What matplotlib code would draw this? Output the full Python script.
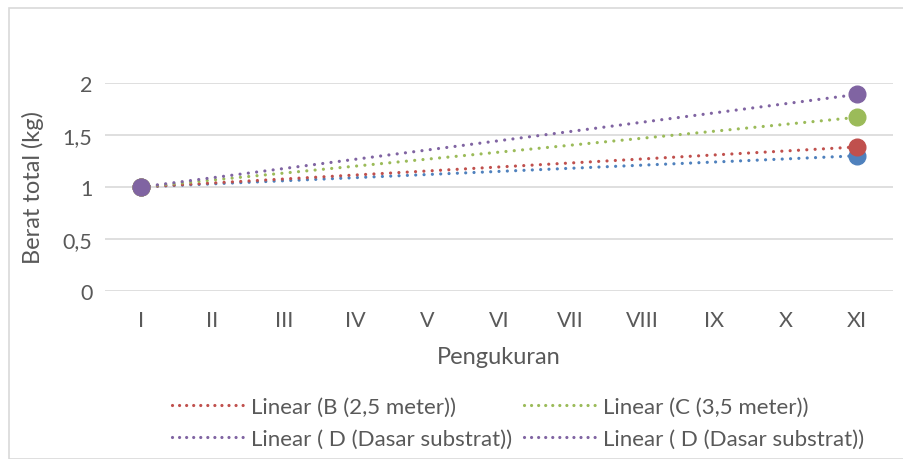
import matplotlib.pyplot as plt
import numpy as np
from matplotlib.lines import Line2D
from matplotlib.patches import Rectangle

# Data
kategori = ['I', 'II', 'III', 'IV', 'V', 'VI', 'VII', 'VIII', 'IX', 'X', 'XI']
awal = [1.0, 1.0, 1.0, 1.0]            # nilai di pengukuran I
akhir = [1.30, 1.385, 1.67, 1.89]      # nilai di pengukuran XI
warna = ['#4F81BD', '#C0504D', '#9BBB59', '#8064A2']
label_legend = ['Linear (B (2,5 meter))', 'Linear (C (3,5 meter))',
                'Linear ( D (Dasar substrat))', 'Linear ( D (Dasar substrat))']
warna_legend = ['#C0504D', '#9BBB59', '#8064A2', '#8064A2']
y_ticks = [0, 0.5, 1, 1.5, 2]
y_ticklabels = ['0', '0,5', '1', '1,5', '2']

plt.rcParams['font.family'] = ['Lato', 'DejaVu Sans']
abu = '#595959'

fig = plt.figure(figsize=(9.04, 4.6), dpi=100)
ax = fig.add_axes([105 / 904, (460 - 292) / 460, (893 - 105) / 904, 208 / 460])

# bingkai chart
fig.patches.append(Rectangle((9 / 904, 0), 1.0, (460 - 9) / 460, transform=fig.transFigure,
                             fill=False, edgecolor='#d9d9d9', linewidth=1.2))

pos = np.arange(len(kategori))
x_data = np.array([0, len(kategori) - 1])
dot = (0, (0.01, 2.6))

for a, b, c in zip(awal, akhir, warna):
    # garis tren linear
    coef = np.polyfit(x_data, [a, b], 1)
    ax.plot(x_data, np.polyval(coef, x_data), color=c, linestyle=dot,
            linewidth=2.3, dash_capstyle='round', zorder=3)

for a, b, c in zip(awal, akhir, warna):
    ax.plot(x_data, [a, b], linestyle='none', marker='o', markersize=12,
            color=c, zorder=4)

ax.set_xlim(-0.5, len(kategori) - 0.5)
ax.set_ylim(0, 2)
ax.set_xticks(pos)
ax.set_xticklabels(kategori)
ax.set_yticks(y_ticks)
ax.set_yticklabels(y_ticklabels)
ax.tick_params(length=0, labelsize=15.5, colors=abu)
ax.tick_params(axis='x', pad=14)
ax.tick_params(axis='y', pad=9)
ax.grid(axis='y', color='#d9d9d9', linewidth=1.2)
ax.set_axisbelow(True)
for s in ax.spines.values():
    s.set_visible(False)

ax.set_xlabel('Pengukuran', fontsize=17, color=abu, va='center')
ax.xaxis.set_label_coords(0.5, (292 - 358) / 208)
ax.set_ylabel('Berat total (kg)', fontsize=17, color=abu, va='center')
ax.yaxis.set_label_coords((33 - 105) / 788, 0.5)

# urutan baris: matplotlib mengisi per kolom
urut = [0, 2, 1, 3]
handles = [Line2D([0], [0], color=warna_legend[i], linestyle=(0, (0.01, 2.2)),
                  linewidth=2.3, dash_capstyle='round') for i in urut]
fig.legend(handles, [label_legend[i] for i in urut], ncol=2, loc='upper left',
           bbox_to_anchor=(172 / 904, (460 - 398) / 460), frameon=False, fontsize=16,
           labelcolor=abu, handlelength=3.2, handletextpad=0.35,
           columnspacing=0.55, labelspacing=0.55, borderpad=0, borderaxespad=0)

fig.savefig('out.png', dpi=100)
